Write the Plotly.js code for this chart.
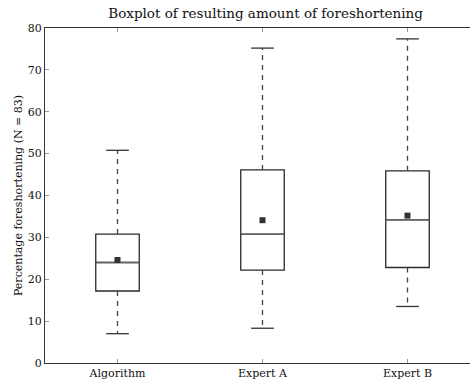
<!DOCTYPE html>
<html><head><meta charset="utf-8">
<script src="https://cdn.plot.ly/plotly-3.0.1.min.js"></script>
<style>html,body{margin:0;padding:0;background:#fff}#plot{width:470px;height:379px}</style>
</head><body><div id="plot"></div>
<script>
const categories = ["Algorithm", "Expert A", "Expert B"];
const positions = [1, 2, 3];
const lowerWhisker = [7.0, 8.3, 13.5];
const q1 = [17.2, 22.2, 22.8];
const median = [24.0, 30.8, 34.2];
const q3 = [30.8, 46.1, 45.9];
const upperWhisker = [50.8, 75.2, 77.4];
const means = [24.6, 34.1, 35.2];
const yTicks = [0, 10, 20, 30, 40, 50, 60, 70, 80];

const serif = "DejaVu Serif, serif";
const traces = [];

// boxes (quartiles + median)
traces.push({
  type: "box",
  x: positions,
  q1: q1, median: median, q3: q3,
  lowerfence: q1, upperfence: q3,
  width: 0.3,
  whiskerwidth: 0,
  fillcolor: "rgba(255,255,255,0)",
  line: {color: "#2a2a2a", width: 1.3},
  hoverinfo: "skip",
  showlegend: false
});

// median lines (lighter grey, as in reference)
traces.push({
  type: "scatter", mode: "markers", x: positions, y: median,
  marker: {symbol: "line-ew", size: 30.5, line: {color: "#666", width: 1.3}},
  hoverinfo: "skip", showlegend: false
});

// dashed whiskers
const wx = [], wy = [];
positions.forEach((p, i) => {
  wx.push(p, p, null, p, p, null);
  wy.push(q3[i], upperWhisker[i], null, q1[i], lowerWhisker[i], null);
});
traces.push({
  type: "scatter", mode: "lines", x: wx, y: wy,
  line: {color: "#444", width: 1.3, dash: "5px,5px"},
  hoverinfo: "skip", showlegend: false
});

// caps
traces.push({
  type: "scatter", mode: "markers",
  x: positions.concat(positions),
  y: upperWhisker.concat(lowerWhisker),
  marker: {symbol: "line-ew", size: 16.2, line: {color: "#333", width: 1.3}},
  hoverinfo: "skip", showlegend: false
});

// means
traces.push({
  type: "scatter", mode: "markers", x: positions, y: means,
  marker: {symbol: "square", size: 6, color: "#333"},
  hoverinfo: "skip", showlegend: false
});

const layout = {
  width: 470, height: 379,
  margin: {l: 45, r: 0, t: 28, b: 16},
  paper_bgcolor: "#fff", plot_bgcolor: "#fff",
  title: {text: "Boxplot of resulting amount of foreshortening",
          font: {family: serif, size: 13.5, color: "#111"},
          x: 0.519, xref: "paper", xanchor: "center", y: 0.952, yanchor: "bottom"},
  xaxis: {
    range: [0.5, 3.431], tickvals: positions, ticktext: categories,
    showgrid: false, zeroline: false,
    showline: true, linecolor: "#333", linewidth: 1, mirror: "ticks",
    ticks: "inside", ticklen: 4, tickcolor: "#999", tickwidth: 1,
    tickfont: {family: serif, size: 11, color: "#111"}
  },
  yaxis: {
    range: [0, 80], tickvals: yTicks,
    showgrid: false, zeroline: false,
    showline: true, linecolor: "#333", linewidth: 1,
    ticks: "inside", ticklen: 4, tickcolor: "#999", tickwidth: 1,
    tickfont: {family: serif, size: 11, color: "#111"},
    title: {text: "Percentage foreshortening (N = 83)", standoff: 2,
            font: {family: serif, size: 11, color: "#111"}}
  },
  font: {family: serif}
};
Plotly.newPlot("plot", traces, layout, {staticPlot: true, displayModeBar: false});
</script></body></html>
